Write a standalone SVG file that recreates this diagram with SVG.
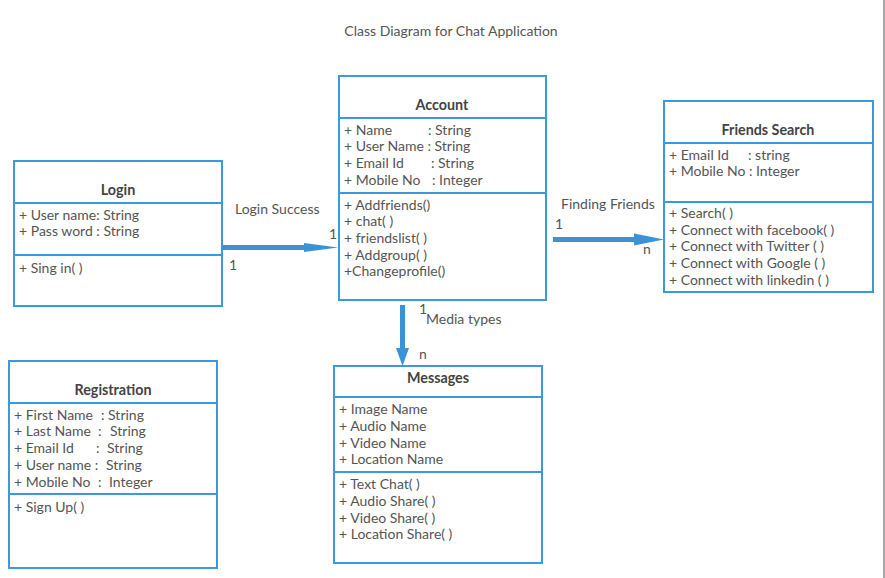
<svg xmlns="http://www.w3.org/2000/svg" width="885" height="578" viewBox="0 0 885 578">
<style>
.box{fill:#fff;stroke:#3a9bdc;stroke-width:2}
.div{stroke:#3a9bdc;stroke-width:2}
text{font-family:Lato,"Open Sans","Liberation Sans",sans-serif;font-size:14px;fill:#555}
.title{font-weight:bold;font-size:14.3px;fill:#444;text-anchor:middle}
.conn{stroke:#3a93d6;stroke-width:5;fill:none}
.head{fill:#3a93d6}
</style>
<rect x="0" y="0" width="885" height="578" fill="#fff"/>
<rect x="883" y="0" width="2" height="578" fill="#aaa"/>
<text x="451" y="36" text-anchor="middle">Class Diagram for Chat Application</text>

<g id="login">
<rect class="box" x="14" y="161" width="208" height="145"/>
<line class="div" x1="14" y1="203" x2="222" y2="203"/>
<line class="div" x1="14" y1="255" x2="222" y2="255"/>
<text class="title" x="118" y="195">Login</text>
<text x="19" y="220">+ User name: String</text>
<text x="19" y="236">+ Pass word : String</text>
<text x="19" y="273">+ Sing in( )</text>
</g>

<g id="account">
<rect class="box" x="339" y="76" width="207" height="224"/>
<line class="div" x1="339" y1="118" x2="546" y2="118"/>
<line class="div" x1="339" y1="193" x2="546" y2="193"/>
<text class="title" x="442" y="110">Account</text>
<text x="344" y="135">+ Name<tspan x="428">: String</tspan></text>
<text x="344" y="151">+ User Name : String</text>
<text x="344" y="168">+ Email Id<tspan x="431">: String</tspan></text>
<text x="344" y="185">+ Mobile No<tspan x="432">: Integer</tspan></text>
<text x="344" y="210">+ Addfriends()</text>
<text x="344" y="226">+ chat( )</text>
<text x="344" y="243">+ friendslist( )</text>
<text x="344" y="260">+ Addgroup( )</text>
<text x="344" y="276">+Changeprofile()</text>
</g>

<g id="friends-search">
<rect class="box" x="664" y="101" width="209" height="191"/>
<line class="div" x1="664" y1="143" x2="873" y2="143"/>
<line class="div" x1="664" y1="202" x2="873" y2="202"/>
<text class="title" x="768" y="135">Friends Search</text>
<text x="669" y="160">+ Email Id<tspan x="748">: string</tspan></text>
<text x="669" y="176">+ Mobile No : Integer</text>
<text x="669" y="218">+ Search( )</text>
<text x="669" y="235">+ Connect with facebook( )</text>
<text x="669" y="251">+ Connect with Twitter ( )</text>
<text x="669" y="268">+ Connect with Google ( )</text>
<text x="669" y="285">+ Connect with linkedin ( )</text>
</g>

<g id="registration">
<rect class="box" x="9" y="361" width="208" height="207"/>
<line class="div" x1="9" y1="403" x2="217" y2="403"/>
<line class="div" x1="9" y1="494" x2="217" y2="494"/>
<text class="title" x="113" y="395">Registration</text>
<text x="14" y="420">+ First Name<tspan x="101">: String</tspan></text>
<text x="14" y="436">+ Last Name<tspan x="98">:</tspan><tspan x="110">String</tspan></text>
<text x="14" y="453">+ Email Id<tspan x="96">:</tspan><tspan x="107">String</tspan></text>
<text x="14" y="470">+ User name :<tspan x="106">String</tspan></text>
<text x="14" y="487">+ Mobile No<tspan x="98">:</tspan><tspan x="109">Integer</tspan></text>
<text x="14" y="512">+ Sign Up( )</text>
</g>

<g id="messages">
<rect class="box" x="334" y="366" width="208" height="197"/>
<line class="div" x1="334" y1="397" x2="542" y2="397"/>
<line class="div" x1="334" y1="472" x2="542" y2="472"/>
<text class="title" x="438" y="383">Messages</text>
<text x="339" y="414">+ Image Name</text>
<text x="339" y="431">+ Audio Name</text>
<text x="339" y="448">+ Video Name</text>
<text x="339" y="464">+ Location Name</text>
<text x="339" y="489">+ Text Chat( )</text>
<text x="339" y="506">+ Audio Share( )</text>
<text x="339" y="523">+ Video Share( )</text>
<text x="339" y="539">+ Location Share( )</text>
</g>

<g id="connectors">
<line class="conn" x1="222" y1="247.5" x2="308" y2="247.5"/>
<polygon class="head" points="304,243 338,247.5 304,252"/>
<text x="235" y="214">Login Success</text>
<text x="329" y="239">1</text>
<text x="229" y="270">1</text>

<line class="conn" x1="553" y1="239.5" x2="638" y2="239.5"/>
<polygon class="head" points="634,233.5 664,239.5 634,245.5"/>
<text x="561" y="209">Finding Friends</text>
<text x="555" y="229">1</text>
<text x="643" y="254">n</text>

<line class="conn" x1="402.5" y1="305" x2="402.5" y2="352"/>
<polygon class="head" points="396,348 402.5,366 409,348"/>
<text x="419" y="314">1</text>
<text x="426" y="324">Media types</text>
<text x="419" y="359">n</text>
</g>
</svg>
